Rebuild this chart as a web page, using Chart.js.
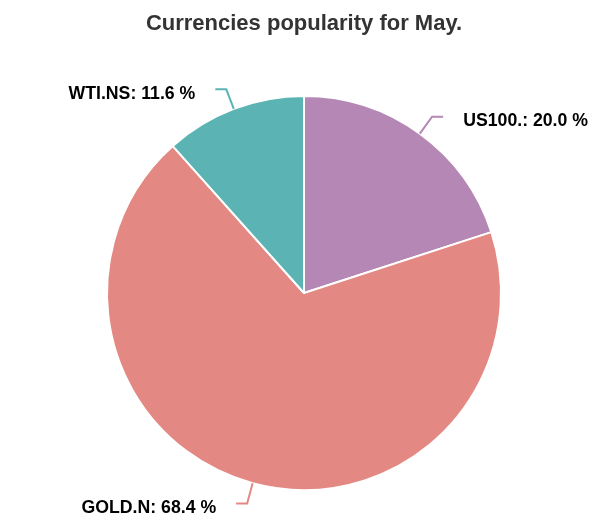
<!DOCTYPE html>
<html>
<head>
<meta charset="utf-8">
<script src="https://cdn.jsdelivr.net/npm/chart.js@4/dist/chart.umd.min.js"></script>
<style>
html,body{margin:0;padding:0;background:#fff;}
#wrap{width:608px;height:530px;position:relative;}
</style>
</head>
<body>
<div id="wrap"><canvas id="c" width="608" height="530"></canvas></div>
<script>
const titleText = "Currencies popularity for May.";
const categories = ["US100.", "GOLD.N", "WTI.NS"];
const values = [20.0, 68.4, 11.6];
const colors = ["#b587b4", "#e38883", "#5cb3b3"];

const labelPlugin = {
  id: 'outLabels',
  afterDatasetsDraw(chart) {
    const ctx = chart.ctx;
    const meta = chart.getDatasetMeta(0);
    ctx.save();
    meta.data.forEach((arc, i) => {
      const p = arc.getProps(['x','y','startAngle','endAngle','outerRadius'], true);
      const mid = (p.startAngle + p.endAngle) / 2;
      const cos = Math.cos(mid), sin = Math.sin(mid);
      const x1 = p.x + cos * p.outerRadius, y1 = p.y + sin * p.outerRadius;
      const x2 = p.x + cos * (p.outerRadius + 21), y2 = p.y + sin * (p.outerRadius + 21);
      const dir = cos >= 0 ? 1 : -1;
      const x3 = x2 + dir * 11;
      ctx.strokeStyle = colors[i];
      ctx.lineWidth = 2;
      ctx.beginPath();
      ctx.moveTo(x1, y1);
      ctx.lineTo(x2, y2);
      ctx.lineTo(x3, y2);
      ctx.stroke();
      ctx.fillStyle = '#000';
      ctx.font = 'bold 17.7px "Liberation Sans", Arial, sans-serif';
      ctx.textBaseline = 'middle';
      ctx.textAlign = dir > 0 ? 'left' : 'right';
      const txt = categories[i] + ': ' + values[i].toFixed(1) + ' %';
      ctx.fillText(txt, x3 + dir * 20, y2 + 4.5);
    });
    ctx.restore();
  }
};

new Chart(document.getElementById('c'), {
  type: 'pie',
  data: {
    labels: categories,
    datasets: [{
      data: values,
      backgroundColor: colors,
      borderColor: '#ffffff',
      borderWidth: 2,
      hoverOffset: 0
    }]
  },
  options: {
    responsive: false,
    animation: false,
    events: [],
    layout: { padding: { top: 0, bottom: 39, left: 0, right: 0 } },
    plugins: {
      legend: { display: false },
      tooltip: { enabled: false },
      title: {
        display: true,
        text: titleText,
        color: '#333333',
        font: { family: '"Liberation Sans", Arial, sans-serif', size: 22, weight: 'bold', lineHeight: 1.2 },
        padding: { top: 11, bottom: 57.6 }
      }
    }
  },
  plugins: [labelPlugin]
});
</script>
</body>
</html>
